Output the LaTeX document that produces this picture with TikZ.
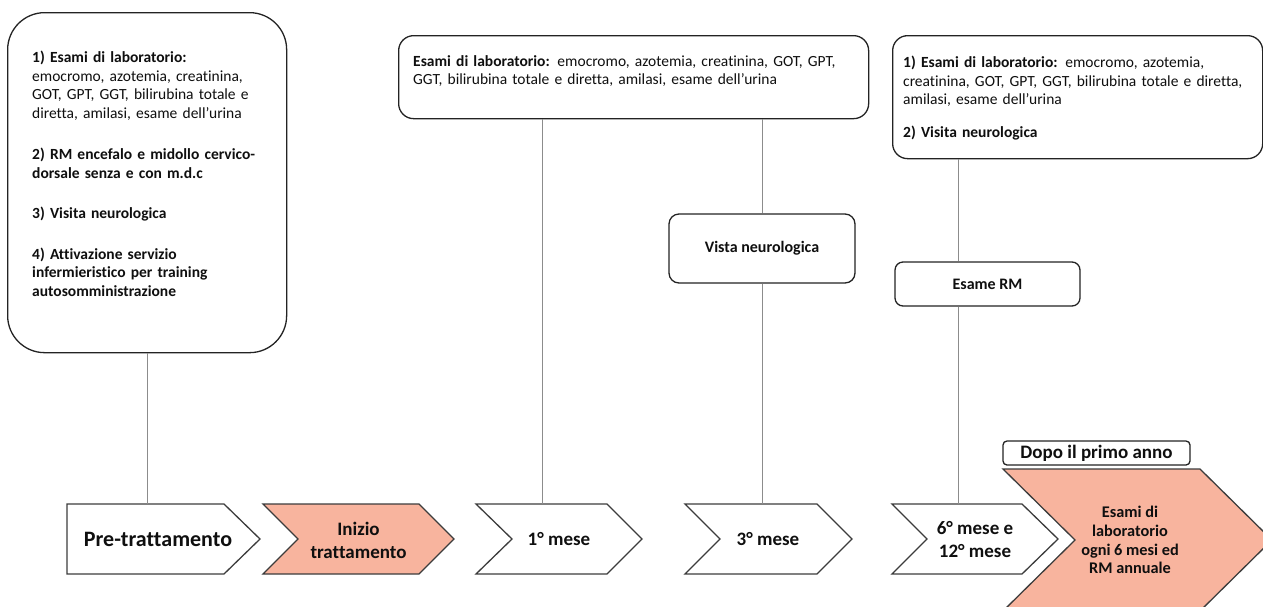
\documentclass[tikz,border=0pt]{standalone}
\usepackage{fontspec}
\setmainfont{Carlito}[Ligatures=NoCommon]
\definecolor{boxline}{RGB}{35,35,35}
\definecolor{chevgray}{RGB}{60,60,60}
\definecolor{linkgray}{RGB}{140,140,140}
\definecolor{salmon}{RGB}{248,180,158}
\definecolor{ink}{RGB}{15,15,15}
\begin{document}
\begin{tikzpicture}[x=1pt,y=-1pt,
  box/.style={draw=boxline, line width=1.3pt, fill=white, inner sep=0pt, anchor=north west, text=ink},
  link/.style={draw=linkgray, line width=1pt},
  chev/.style={draw=chevgray, line width=1.3pt, line join=miter},
  lbl/.style={inner sep=0pt, align=center, text=ink, minimum height=70pt,
    font=\bfseries\fontsize{19}{23}\selectfont},
  txt/.style={inner sep=0pt, anchor=north west, align=left, text=ink,
    font=\fontsize{15.5}{18.5}\selectfont}
]
\useasboundingbox (0,0) rectangle (1263,606);

% ---- timeline chevrons ----
\draw[chev, fill=white] (67,504) -- (224,504) -- (260,539) -- (224,574) -- (67,574) -- cycle;
\draw[chev, fill=salmon] (263,504) -- (419,504) -- (454,539) -- (419,574) -- (263,574) -- (298,539) -- cycle;
\draw[chev, fill=white] (476,504) -- (607,504) -- (642,539) -- (607,574) -- (476,574) -- (512,539) -- cycle;
\draw[chev, fill=white] (685,504) -- (817,504) -- (852,539) -- (817,574) -- (685,574) -- (720,539) -- cycle;
\draw[chev, fill=white] (892,504) -- (1022,504) -- (1058,539) -- (1022,574) -- (892,574) -- (927,539) -- cycle;
\begin{scope}
  \clip (0,0) rectangle (1263,606);
  \draw[chev, fill=salmon] (1003,469) -- (1200,469) -- (1272,540) -- (1200,611) -- (1003,611) -- (1075,540) -- cycle;
\end{scope}

\node[lbl, font=\bfseries\fontsize{22}{26}\selectfont] (pt) at (158,539) {Pre-trattamento};
\node[lbl] (it) at (358.5,540) {Inizio\\trattamento};
\node[lbl] (m1) at (559,539) {1° mese};
\node[lbl] (m3) at (768,539) {3° mese};
\node[lbl] (m6) at (975,539) {6° mese e\\12° mese};
\node[lbl, font=\bfseries\fontsize{16.3}{18.7}\selectfont] (yr) at (1130,540)
  {Esami di\\laboratorio\\ogni 6 mesi ed\\RM annuale};

% ---- boxes ----
\node[box, rounded corners=37pt, minimum width=279pt, minimum height=340pt] (prebox) at (7,12) {};
\node[txt, text width=250pt] (pretxt) at (32,51) {%
  \textbf{1) Esami di laboratorio:}\\
  emocromo, azotemia, creatinina,\\
  GOT, GPT, GGT, bilirubina totale e\\
  diretta, amilasi, esame dell’urina\\[23pt]
  \textbf{2) RM encefalo e midollo cervico-}\\
  \textbf{dorsale senza e con m.d.c}\\[22pt]
  \textbf{3) Visita neurologica}\\[22pt]
  \textbf{4) Attivazione servizio}\\
  \textbf{infermieristico per training}\\
  \textbf{autosomministrazione}};

\node[box, rounded corners=15pt, minimum width=470pt, minimum height=83pt] (lab1) at (398,35) {};
\node[txt, text width=450pt] (lab1txt) at (413,55) {%
  \textbf{Esami di laboratorio:} emocromo, azotemia, creatinina, GOT, GPT,\\
  GGT, bilirubina totale e diretta, amilasi, esame dell’urina};

\node[box, rounded corners=15pt, minimum width=370pt, minimum height=123pt] (lab2) at (892,35) {};
\node[txt, text width=355pt] (lab2txt) at (903,56) {%
  \textbf{1) Esami di laboratorio:} emocromo, azotemia,\\
  creatinina, GOT, GPT, GGT, bilirubina totale e diretta,\\
  amilasi, esame dell’urina\\[14pt]
  \textbf{2) Visita neurologica}};

\node[box, anchor=center, rounded corners=10pt, minimum width=186pt, minimum height=69pt,
  font=\bfseries\fontsize{16}{19}\selectfont] (vista) at (762,248.5) {Vista neurologica};
\node[box, anchor=center, rounded corners=8pt, minimum width=185pt, minimum height=44pt,
  font=\bfseries\fontsize{16}{19}\selectfont] (rm) at (987.5,284) {Esame RM};
\node[box, anchor=center, rounded corners=4pt, minimum width=187pt, minimum height=24pt,
  font=\bfseries\fontsize{19}{22}\selectfont] (dopo) at (1096.5,453) {Dopo il primo anno};

% ---- connectors ----
\coordinate (c1) at (542,504);
\coordinate (c6) at (958,504);
\draw[link] (prebox.south) -- (prebox.south |- pt.north);
\draw[link] (lab1.south -| c1) -- (c1);
\draw[link] (lab1.south -| vista.north) -- (vista.north);
\draw[link] (vista.south) -- (vista.south |- m3.north);
\draw[link] (lab2.south -| c6) -- (rm.north -| c6);
\draw[link] (rm.south -| c6) -- (c6);
\end{tikzpicture}
\end{document}
